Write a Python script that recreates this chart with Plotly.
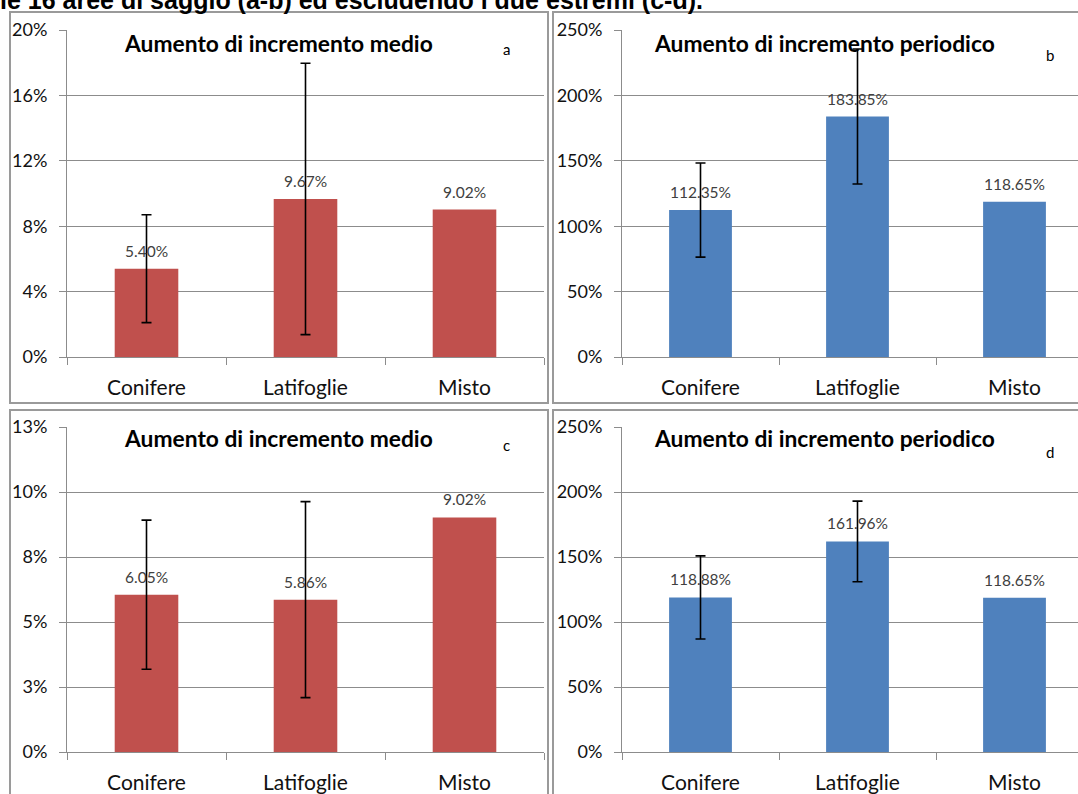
import plotly.graph_objects as go

# Categories of woodland type
categories = ["Conifere", "Latifoglie", "Misto"]

# a: mean increment increase, all 16 plots
medio_all = [0.0540, 0.0967, 0.0902]
medio_all_err = [0.0330, 0.0830]          # Misto has no spread bar
# b: periodic increment increase, all 16 plots
periodico_all = [1.1235, 1.8385, 1.1865]
periodico_all_err = [0.360, 0.516]
# c: mean increment increase, extremes excluded
medio_excl = [0.0605, 0.0586, 0.0902]
medio_excl_err = [0.0287, 0.0377]
# d: periodic increment increase, extremes excluded
periodico_excl = [1.1888, 1.6196, 1.1865]
periodico_excl_err = [0.320, 0.310]

# Tick labels for panel c (2.5 % steps shown rounded)
c_tickvals = [0, 0.025, 0.05, 0.075, 0.10, 0.125]
c_ticktext = ["0%", "3%", "5%", "8%", "10%", "13%"]

title_medio = "Aumento di incremento medio"
title_periodico = "Aumento di incremento periodico"
caption = "le 16 aree di saggio (a-b) ed escludendo i due estremi (c-d)."

RED = "#C0504D"
BLUE = "#4F81BD"
GRID = "#8C8C8C"
FONT = "Lato"

W, H = 1078, 794

fig = go.Figure()


def px_x(p):
    return p / W


def px_y(p):
    return 1 - p / H


panels = [
    # name, values, errors, colour, x-axis id, y-axis id
    ("a", medio_all, medio_all_err, RED, "x", "y"),
    ("b", periodico_all, periodico_all_err, BLUE, "x2", "y2"),
    ("c", medio_excl, medio_excl_err, RED, "x3", "y3"),
    ("d", periodico_excl, periodico_excl_err, BLUE, "x4", "y4"),
]

for name, vals, errs, col, xa, ya in panels:
    fig.add_trace(go.Bar(
        x=categories, y=vals, xaxis=xa, yaxis=ya,
        marker=dict(color=col, line=dict(width=0)),
        error_y=dict(type="data", array=errs, visible=True,
                     color="#000000", thickness=1.6, width=5),
        showlegend=False, hoverinfo="skip",
    ))
    for c, v in zip(categories, vals):
        fig.add_annotation(
            x=c, y=v, xref=xa, yref=ya, text=f"{v:.2%}",
            showarrow=False, yanchor="bottom", yshift=7,
            font=dict(family=FONT, size=15.5, color="#404040"),
        )

left_dom = [px_x(67), px_x(544)]
right_dom = [px_x(622), 1.0]
right_range = [-0.5, -0.5 + (W - 622) / 157.0]
top_dom = [px_y(357), px_y(30)]
bot_dom = [px_y(752), px_y(427)]

xcommon = dict(
    type="category", tickson="boundaries", ticks="outside", ticklen=7,
    tickcolor=GRID, showline=True, linecolor=GRID, linewidth=1,
    showgrid=False, tickfont=dict(family=FONT, size=21, color="#111111"),
    ticklabelstandoff=12, fixedrange=True, automargin=False,
)
ycommon = dict(
    ticks="outside", ticklen=7, tickcolor=GRID, showline=True,
    linecolor=GRID, linewidth=1, showgrid=True, gridcolor=GRID,
    gridwidth=1, zeroline=False,
    tickfont=dict(family=FONT, size=18, color="#111111"),
    ticklabelstandoff=8, fixedrange=True, automargin=False,
)

fig.update_layout(
    width=W, height=H,
    margin=dict(l=0, r=0, t=0, b=0, autoexpand=False),
    paper_bgcolor="white", plot_bgcolor="white",
    bargap=0.6,
    # Caption line running off the top edge
    title=dict(text=f"<b>{caption}</b>", xref="container", yref="container",
               x=0, xanchor="left", y=1, yanchor="middle",
               pad=dict(l=0, r=0, t=0, b=0), automargin=False,
               font=dict(family="Liberation Sans", size=25,
                         color="#000000")),
    xaxis=dict(xcommon, domain=left_dom, anchor="y", range=[-0.5, 2.5]),
    yaxis=dict(ycommon, domain=top_dom, anchor="x", range=[0, 0.20],
               dtick=0.04, tickformat=".0%"),
    xaxis2=dict(xcommon, domain=right_dom, anchor="y2", range=right_range),
    yaxis2=dict(ycommon, domain=top_dom, anchor="x2", range=[0, 2.5],
                dtick=0.5, tickformat=".0%"),
    xaxis3=dict(xcommon, domain=left_dom, anchor="y3", range=[-0.5, 2.5]),
    yaxis3=dict(ycommon, domain=bot_dom, anchor="x3", range=[0, 0.125],
                tickvals=c_tickvals, ticktext=c_ticktext),
    xaxis4=dict(xcommon, domain=right_dom, anchor="y4", range=right_range),
    yaxis4=dict(ycommon, domain=bot_dom, anchor="x4", range=[0, 2.5],
                dtick=0.5, tickformat=".0%"),
)

# Panel frames
frames = [(10, 12, 548, 403), (553, 12, 1090, 403),
          (10, 410, 548, 800), (553, 410, 1090, 800)]
for x0, y0, x1, y1 in frames:
    fig.add_shape(type="rect", xref="paper", yref="paper",
                  x0=px_x(x0), x1=px_x(x1), y0=px_y(y1), y1=px_y(y0),
                  line=dict(color="#9A9A9A", width=2), layer="above")

# Panel titles and letters
heads = [
    (title_medio, 122, 43, "a", 506, 49),
    (title_periodico, 652, 43, "b", 1050, 55),
    (title_medio, 122, 438, "c", 506, 445),
    (title_periodico, 652, 438, "d", 1050, 452),
]
for txt, tx, ty, letter, lx, ly in heads:
    fig.add_annotation(xref="paper", yref="paper", x=px_x(tx), y=px_y(ty),
                       xanchor="left", yanchor="middle", showarrow=False,
                       text=f"<b>{txt}</b>",
                       font=dict(family=FONT, size=22.8, color="#000000"))
    fig.add_annotation(xref="paper", yref="paper", x=px_x(lx), y=px_y(ly),
                       xanchor="center", yanchor="middle", showarrow=False,
                       text=letter,
                       font=dict(family=FONT, size=15, color="#000000"))

fig.write_html("out.html")
